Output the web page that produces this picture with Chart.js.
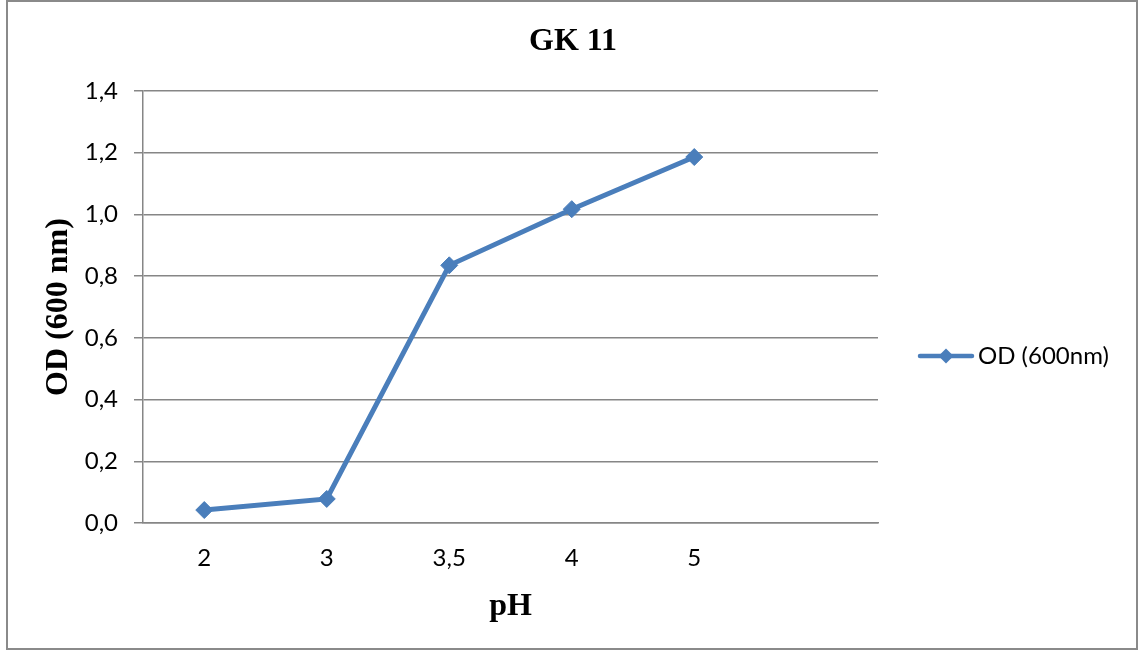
<!DOCTYPE html>
<html>
<head>
<meta charset="utf-8">
<title>GK 11</title>
<script src="https://cdn.jsdelivr.net/npm/chart.js@4"></script>
<style>
  html, body { margin: 0; padding: 0; background: #fff; }
  #wrap { position: relative; width: 1146px; height: 655px; }
</style>
</head>
<body>
<div id="wrap"><canvas id="chart" width="1146" height="655"></canvas></div>
<script>
// pH categories (the last, blank slot keeps the axis running past pH 5)
const phLabels = ['2', '3', '3,5', '4', '5', ''];
// optical density at 600 nm for each pH
const odValues = [0.042, 0.078, 0.835, 1.017, 1.186, null];
// value-axis labels, decimal comma
const yTickLabels = ['0,0', '0,2', '0,4', '0,6', '0,8', '1,0', '1,2', '1,4'];

const seriesName = 'OD (600nm)';
const chartTitle = 'GK 11';
const xTitle = 'pH';
const yTitle = 'OD (600 nm)';

const BLUE = '#4A7EBB';
const GRID = '#868686';
const TICK_FONT = { family: 'Lato, "Open Sans", sans-serif', size: 24 };
const TITLE_FONT = { family: '"Liberation Serif", "Times New Roman", serif', size: 32, weight: 'bold', lineHeight: 1.2 };

// frame around the whole chart
const framePlugin = {
  id: 'frame',
  beforeDraw(chart) {
    const ctx = chart.ctx;
    ctx.save();
    ctx.fillStyle = '#fff';
    ctx.fillRect(0, 0, chart.width, chart.height);
    ctx.strokeStyle = '#8a8a8a';
    ctx.lineWidth = 2;
    ctx.strokeRect(7, 1, 1130, 648);
    ctx.restore();
  }
};

// series key drawn to the right of the plot
const keyPlugin = {
  id: 'seriesKey',
  afterDraw(chart) {
    const ds = chart.data.datasets[0];
    const ctx = chart.ctx;
    const y = 356;
    ctx.save();
    ctx.strokeStyle = ds.borderColor;
    ctx.lineWidth = 4.5;
    ctx.lineCap = 'round';
    ctx.beginPath();
    ctx.moveTo(920, y);
    ctx.lineTo(972, y);
    ctx.stroke();
    ctx.fillStyle = ds.pointBackgroundColor;
    ctx.beginPath();
    ctx.moveTo(946 - 7.5, y);
    ctx.lineTo(946, y - 7.5);
    ctx.lineTo(946 + 7.5, y);
    ctx.lineTo(946, y + 7.5);
    ctx.closePath();
    ctx.fill();
    ctx.fillStyle = '#000';
    ctx.font = TICK_FONT.size + 'px ' + TICK_FONT.family;
    ctx.textBaseline = 'middle';
    ctx.textAlign = 'left';
    ctx.fillText(ds.label, 978, y);
    ctx.restore();
  }
};

new Chart(document.getElementById('chart'), {
  type: 'line',
  data: {
    labels: phLabels,
    datasets: [{
      label: seriesName,
      data: odValues,
      borderColor: BLUE,
      backgroundColor: BLUE,
      pointBackgroundColor: BLUE,
      pointBorderColor: BLUE,
      borderWidth: 5,
      pointStyle: 'rectRot',
      pointRadius: 8.5,
      pointBorderWidth: 1,
      tension: 0,
      fill: false
    }]
  },
  options: {
    responsive: false,
    animation: false,
    devicePixelRatio: 1,
    layout: { padding: 0 },
    plugins: {
      legend: { display: false },
      tooltip: { enabled: false },
      title: {
        display: true,
        text: chartTitle,
        color: '#000',
        font: TITLE_FONT,
        padding: { top: 23, bottom: 29.6 }
      }
    },
    scales: {
      x: {
        type: 'category',
        offset: true,
        grid: { display: false, drawTicks: false },
        border: { display: true, color: GRID, width: 1.5 },
        ticks: { color: '#000', font: TICK_FONT, padding: 21, maxRotation: 0, autoSkip: false },
        title: { display: true, text: xTitle, color: '#000', font: TITLE_FONT, padding: { top: 0, bottom: 29 } },
        afterFit(scale) { scale.height = 132; }
      },
      y: {
        min: 0,
        max: 1.4,
        ticks: {
          stepSize: 0.2,
          color: '#000',
          font: TICK_FONT,
          padding: 16,
          callback: (v, i) => yTickLabels[i]
        },
        grid: { color: GRID, lineWidth: 1.5, tickLength: 9, drawTicks: true },
        border: { display: true, color: GRID, width: 1.5 },
        title: { display: true, text: yTitle, color: '#000', font: TITLE_FONT, padding: { top: 40, bottom: 0 } },
        afterFit(scale) { scale.width = 143; }
      },
      keySpace: {
        type: 'linear',
        position: 'right',
        display: true,
        grid: { display: false },
        border: { display: false },
        ticks: { display: false },
        afterFit(scale) { scale.width = 268; }
      }
    }
  },
  plugins: [framePlugin, keyPlugin]
});
</script>
</body>
</html>
